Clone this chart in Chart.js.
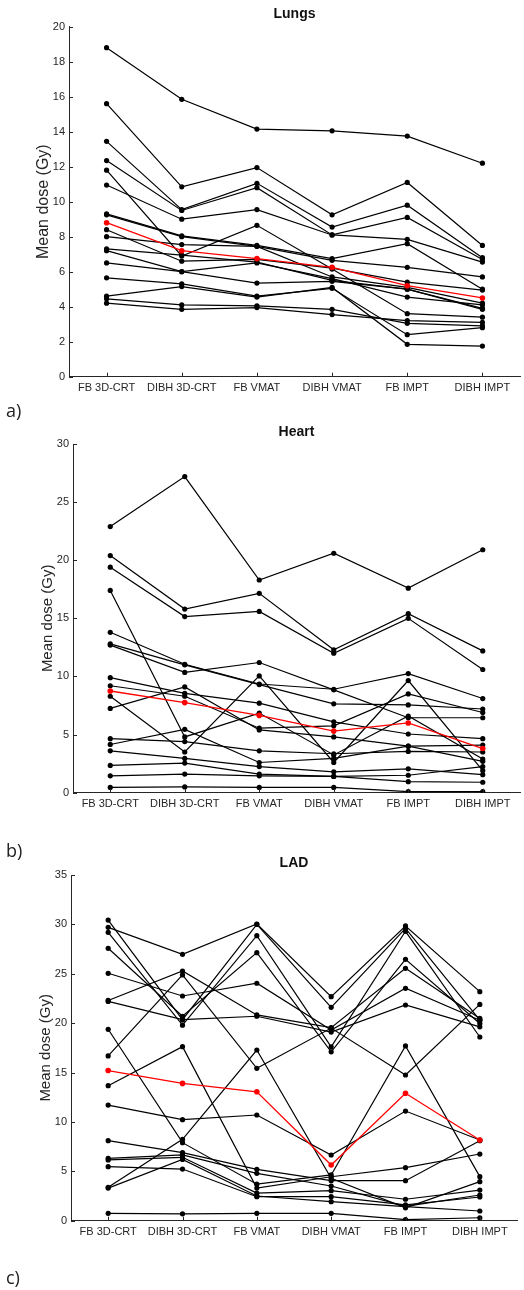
<!DOCTYPE html>
<html><head><meta charset="utf-8">
<script src="https://cdn.jsdelivr.net/npm/chart.js@4.4.1/dist/chart.umd.min.js"></script>
<style>
body{margin:0;background:#fff;width:524px;height:1290px;position:relative;overflow:hidden}
canvas{position:absolute;left:0}
.lbl{position:absolute;left:6px;font-family:"Open Sans";font-size:18px;line-height:18px;color:#222}
</style></head><body>
<canvas id="c1" width="524" height="400" style="top:0px;width:524px;height:400px"></canvas>
<canvas id="c2" width="524" height="400" style="top:415px;width:524px;height:400px"></canvas>
<canvas id="c3" width="524" height="400" style="top:845px;width:524px;height:400px"></canvas>
<div class="lbl" style="top:401px">a)</div>
<div class="lbl" style="top:841px">b)</div>
<div class="lbl" style="top:1268px">c)</div>
<script>
const categories = ["FB 3D-CRT", "DIBH 3D-CRT", "FB VMAT", "DIBH VMAT", "FB IMPT", "DIBH IMPT"];

// Lungs – mean dose (Gy) per patient
const lungsPatients = [
  [18.8, 15.85, 14.15, 14.05, 13.75, 12.2],
  [15.6, 10.85, 11.95, 9.25, 11.1, 7.5],
  [13.45, 9.55, 11.05, 8.55, 9.8, 6.8],
  [12.35, 9.5, 10.8, 8.1, 9.1, 6.7],
  [10.95, 9.0, 9.55, 8.1, 7.85, 6.55],
  [11.8, 6.9, 8.65, 6.15, 3.6, 3.4],
  [9.3, 8.05, 7.5, 6.75, 7.6, 5.0],
  [9.25, 8.0, 7.45, 6.65, 6.25, 5.7],
  [8.4, 6.6, 6.7, 6.2, 5.4, 4.95],
  [8.0, 7.55, 7.45, 5.7, 5.1, 4.2],
  [7.3, 6.95, 6.55, 5.5, 5.0, 3.9],
  [7.2, 6.0, 6.5, 5.6, 4.55, 4.1],
  [6.5, 6.0, 5.35, 5.45, 5.0, 3.85],
  [5.65, 5.3, 4.6, 5.05, 2.4, 2.8],
  [4.6, 5.15, 4.55, 5.1, 1.85, 1.75],
  [4.45, 4.1, 4.05, 3.85, 3.05, 2.9],
  [4.2, 3.85, 3.95, 3.55, 3.2, 3.1]
];
const lungsMean = [8.8, 7.2, 6.75, 6.25, 5.2, 4.5];

// Heart – mean dose (Gy) per patient
const heartPatients = [
  [22.9, 27.2, 18.3, 20.6, 17.6, 20.9],
  [20.4, 15.8, 17.15, 12.3, 15.4, 12.2],
  [19.4, 15.15, 15.6, 12.0, 15.0, 10.6],
  [17.4, 4.8, 6.85, 3.25, 6.6, 2.9],
  [13.8, 11.05, 9.35, 8.9, 10.25, 8.1],
  [12.8, 11.0, 9.3, 7.65, 7.55, 7.2],
  [12.7, 10.35, 11.2, 8.85, 6.45, 6.45],
  [9.9, 8.55, 7.7, 6.1, 5.05, 4.65],
  [9.2, 8.3, 5.55, 5.75, 8.5, 6.9],
  [8.3, 3.5, 10.05, 2.6, 9.65, 1.9],
  [7.25, 9.1, 5.4, 4.8, 4.0, 2.7],
  [4.65, 4.4, 3.6, 3.35, 3.55, 3.5],
  [4.15, 5.45, 2.6, 2.95, 4.0, 4.1],
  [3.6, 2.95, 2.25, 1.8, 2.05, 1.55],
  [2.35, 2.55, 1.6, 1.4, 1.5, 2.25],
  [1.45, 1.6, 1.45, 1.4, 0.95, 0.9],
  [0.45, 0.5, 0.45, 0.45, 0.1, 0.1]
];
const heartMean = [8.75, 7.75, 6.65, 5.3, 6.0, 3.8];

// LAD – mean dose (Gy) per patient
const ladPatients = [
  [29.7, 26.97, 30.04, 22.68, 29.84, 23.19],
  [30.44, 20.35, 30.0, 21.6, 29.6, 20.3],
  [29.2, 19.8, 28.86, 17.6, 29.3, 18.6],
  [27.58, 20.7, 27.14, 17.1, 26.46, 19.97],
  [25.05, 22.75, 24.04, 19.3, 23.53, 20.3],
  [22.3, 25.28, 20.83, 19.54, 25.55, 20.48],
  [22.2, 20.35, 20.7, 19.1, 21.84, 19.63],
  [16.68, 24.88, 15.43, 19.5, 14.75, 21.9],
  [19.38, 7.9, 3.7, 4.63, 17.69, 4.46],
  [13.67, 17.62, 3.3, 4.45, 5.37, 6.75],
  [11.71, 10.23, 10.7, 6.65, 11.1, 8.17],
  [8.1, 6.89, 5.2, 4.05, 4.05, 8.1],
  [6.32, 6.66, 4.8, 3.51, 1.45, 2.6],
  [6.15, 6.42, 2.8, 3.04, 2.17, 3.1],
  [5.47, 5.23, 2.43, 2.43, 1.6, 2.4],
  [3.38, 8.24, 17.28, 4.3, 1.3, 3.95],
  [3.3, 6.2, 2.5, 1.93, 1.43, 0.98],
  [0.75, 0.7, 0.75, 0.75, 0.1, 0.3]
];
const ladMean = [15.2, 13.9, 13.05, 5.64, 12.9, 8.17];

const lungsAxis = {max: 20, step: 2};
const heartAxis = {max: 30, step: 5};
const ladAxis = {max: 35, step: 5};

const AXIS = '#262626';
const FONT = '"Liberation Sans", Arial, Helvetica, sans-serif';

const innerTicks = {
  id: 'innerTicks',
  afterDraw(chart) {
    const ctx = chart.ctx, xs = chart.scales.x, ys = chart.scales.y;
    const a = chart.chartArea;
    ctx.save();
    ctx.strokeStyle = AXIS; ctx.lineWidth = 1;
    ctx.beginPath();
    xs.ticks.forEach((t, i) => {
      const px = Math.round(xs.getPixelForTick(i)) + 0.5;
      ctx.moveTo(px, a.bottom); ctx.lineTo(px, a.bottom - 4);
    });
    ys.ticks.forEach((t, i) => {
      const py = Math.round(ys.getPixelForTick(i)) + 0.5;
      ctx.moveTo(a.left, py); ctx.lineTo(a.left + 4, py);
    });
    ctx.stroke();
    ctx.restore();
  }
};

function makePanel(id, title, rows, mean, axis, g) {
  const datasets = [{
    data: mean, borderColor: '#ff0000', backgroundColor: '#ff0000',
    borderWidth: 1.3, pointRadius: 2.8, pointBorderWidth: 0, tension: 0, order: 0
  }];
  rows.forEach(r => datasets.push({
    data: r, borderColor: '#000', backgroundColor: '#000',
    borderWidth: 1.2, pointRadius: 2.6, pointBorderWidth: 0, tension: 0, order: 1
  }));
  new Chart(document.getElementById(id), {
    type: 'line',
    data: {labels: categories, datasets},
    options: {
      responsive: false, animation: false, devicePixelRatio: 1,
      layout: {padding: {left: 0, right: g.right, top: 0, bottom: 0}},
      plugins: {
        legend: {display: false}, tooltip: {enabled: false},
        title: {display: true, text: title, color: '#111', fullSize: false,
          font: {family: FONT, size: 14, weight: 'bold'},
          padding: {top: g.tTop, bottom: g.tBot}}
      },
      scales: {
        x: {
          type: 'category', offset: true,
          grid: {display: false, drawTicks: false},
          border: {display: true, color: AXIS, width: 1},
          ticks: {color: AXIS, font: {family: FONT, size: 11}, padding: 5, maxRotation: 0, autoSkip: false},
          afterFit: s => { s.height = g.xH; }
        },
        y: {
          min: 0, max: axis.max,
          grid: {display: false, drawTicks: false},
          border: {display: true, color: AXIS, width: 1},
          ticks: {stepSize: axis.step, color: AXIS, font: {family: FONT, size: 11}, padding: 4},
          title: {display: true, text: 'Mean dose (Gy)', color: AXIS,
            font: {family: FONT, size: g.yF}, padding: {top: g.yT, bottom: 0}},
          afterFit: s => { s.width = g.yW; }
        }
      }
    },
    plugins: [innerTicks]
  });
}

makePanel('c1', 'Lungs', lungsPatients, lungsMean, lungsAxis,
  {right: 4, tTop: 5.6, tBot: 4.3, xH: 23.3, yW: 69, yT: 34, yF: 16});
makePanel('c2', 'Heart', heartPatients, heartMean, heartAxis,
  {right: 4, tTop: 8.3, tBot: 3.9, xH: 22.3, yW: 73, yT: 39, yF: 15});
makePanel('c3', 'LAD', ladPatients, ladMean, ladAxis,
  {right: 7, tTop: 9.6, tBot: 3.6, xH: 24.3, yW: 71, yT: 37, yF: 15});
</script>
</body></html>
